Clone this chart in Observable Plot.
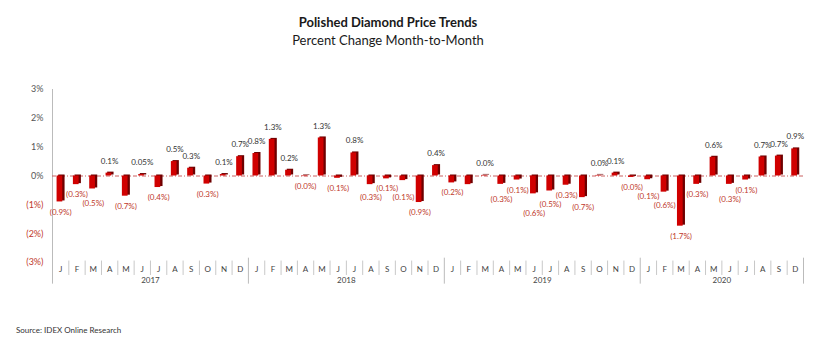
<!DOCTYPE html>
<html>
<head>
<meta charset="utf-8">
<script src="https://cdn.jsdelivr.net/npm/d3@7"></script>
<script src="https://cdn.jsdelivr.net/npm/@observablehq/plot@0.6"></script>
<style>
  body { margin: 0; background: #fff; font-family: Lato, "Open Sans", sans-serif; }
  #wrap { position: relative; width: 823px; height: 346px; overflow: hidden; }
  #title { position: absolute; top: 14px; left: 0; width: 776px; text-align: center; font-weight: bold; font-size: 13px; color: #1a1a1a; line-height: 16px; }
  #subtitle { position: absolute; top: 32px; left: 0; width: 776px; text-align: center; font-size: 13px; color: #1a1a1a; line-height: 16px; }
  #source { position: absolute; top: 325px; left: 16px; font-size: 8px; color: #333; line-height: 10px; }
  #chart { position: absolute; top: 0; left: 0; }
</style>
</head>
<body>
<div id="wrap">
  <div id="chart"></div>
  <div id="title">Polished Diamond Price Trends</div>
  <div id="subtitle">Percent Change Month-to-Month</div>
  <div id="source">Source: IDEX Online Research</div>
</div>
<script>
// Month letters (2017–2020; 2020 shows 10 months)
const months = [
  "J","F","M","A","M","J","J","A","S","O","N","D",
  "J","F","M","A","M","J","J","A","S","O","N","D",
  "J","F","M","A","M","J","J","A","S","O","N","D",
  "J","F","M","A","M","J","J","A","S","D"
];
const years = [
  ...Array(12).fill("2017"), ...Array(12).fill("2018"),
  ...Array(12).fill("2019"), ...Array(10).fill("2020")
];
// Percent change month-to-month
const values = [
  -0.9, -0.3, -0.45, 0.1, -0.7, 0.05, -0.4, 0.5, 0.27, -0.28, 0.05, 0.67,
  0.78, 1.27, 0.2, -0.02, 1.32, -0.08, 0.8, -0.3, -0.1, -0.16, -0.92, 0.36,
  -0.24, -0.3, 0.02, -0.29, -0.14, -0.62, -0.52, -0.32, -0.75, 0.02, 0.1, -0.05,
  -0.13, -0.56, -1.74, -0.29, 0.65, -0.29, -0.14, 0.66, 0.69, 0.94
];
const labels = [
  "(0.9%)","(0.3%)","(0.5%)","0.1%","(0.7%)","0.05%","(0.4%)","0.5%","0.3%","(0.3%)","0.1%","0.7%",
  "0.8%","1.3%","0.2%","(0.0%)","1.3%","(0.1%)","0.8%","(0.3%)","(0.1%)","(0.1%)","(0.9%)","0.4%",
  "(0.2%)","","0.0%","(0.3%)","(0.1%)","(0.6%)","(0.5%)","(0.3%)","(0.7%)","0.0%","0.1%","(0.0%)",
  "(0.1%)","(0.6%)","(1.7%)","(0.3%)","0.6%","(0.3%)","(0.1%)","0.7%","0.7%","0.9%"
];
const yTicksPos = [0, 1, 2, 3];
const yTicksNeg = [-1, -2, -3];

// Layout constants
const W = 823, H = 346, MT = 89, MB = 84, ML = 52, MR = 20;
const Y_DOMAIN = [-3, 3];
const ppu = (H - MT - MB) / (Y_DOMAIN[1] - Y_DOMAIN[0]); // pixels per percent

// Label offsets (pixels below zero line), staggered where neighbouring negative labels collide
const isNeg = labels.map(l => l.startsWith("("));
const off = labels.map((l, i) => !l ? null : (isNeg[i] ? -values[i] * ppu + 10 : -values[i] * ppu - 12));
for (let pass = 0; pass < 3; pass++) {
  for (let i = 1; i < off.length; i++) {
    const j = i - 1;
    if (off[i] == null || off[j] == null || !isNeg[i] || !isNeg[j]) continue;
    if (Math.abs(off[i] - off[j]) < 9) {
      if (values[i] <= values[j]) off[i] = off[j] + 9;
      else off[j] = off[i] + 9;
    }
  }
}

const data = values.map((v, i) => ({ i, v, label: labels[i], month: months[i], year: years[i], ly: off[i] == null ? null : -off[i] / ppu }));
const yearNames = Array.from(new Set(years));
const yearCenters = yearNames.map(y => ({ year: y, x: d3.mean(data.filter(d => d.year === y), d => d.i) }));
const yearBounds = yearNames.map(y => d3.max(data.filter(d => d.year === y), d => d.i) + 0.5);
const monthBounds = d3.range(0.5, values.length - 1, 1).filter(b => !yearBounds.includes(b));

const chart = Plot.plot({
  width: W,
  height: H,
  marginTop: MT,
  marginBottom: MB,
  marginLeft: ML,
  marginRight: MR,
  style: { fontFamily: "Lato, 'Open Sans', sans-serif", fontSize: "9px", background: "transparent" },
  x: { type: "linear", domain: [-0.5, values.length - 0.5], label: null },
  y: { domain: Y_DOMAIN, label: null },
  marks: [
    Plot.axisY({ ticks: yTicksPos, tickSize: 0, tickPadding: 9, tickFormat: d => d + "%", fill: "#555", fontSize: 9, label: null }),
    Plot.axisY({ ticks: yTicksNeg, tickSize: 0, tickPadding: 9, tickFormat: d => `(${-d}%)`, fill: "#c0392b", fontSize: 9, label: null }),
    Plot.axisX(d3.range(values.length), { tickSize: 0, tickPadding: 4, tickFormat: i => months[i], fill: "#444", fontSize: 8, label: null }),
    // left axis line
    Plot.ruleX([-0.5], { y1: 3, y2: -3.75, stroke: "#bbb" }),
    // month separators
    Plot.ruleX(monthBounds, { y1: -2.95, y2: -3.45, stroke: "#c8c8c8" }),
    // year separators
    Plot.ruleX(yearBounds, { y1: -2.85, y2: -3.75, stroke: "#bbb" }),
    // year labels
    Plot.text(yearCenters, { x: "x", frameAnchor: "bottom", dy: 20, text: "year", fill: "#444", fontSize: 8 }),
    // zero line
    Plot.ruleY([0], { stroke: "#c96060", strokeDasharray: "4,2,1,2" }),
    // bar side (3D shadow)
    Plot.rectY(data, { x1: d => d.i - 0.12, x2: d => d.i + 0.27, y1: 0, y2: "v", dy: -1, fill: "#6e0000" }),
    // bar front
    Plot.rectY(data, { x1: d => d.i - 0.22, x2: d => d.i + 0.13, y1: 0, y2: "v", fill: "#d00000" }),
    // labels
    Plot.text(data.filter(d => d.label && !d.label.startsWith("(")), { x: "i", y: "ly", text: "label", fill: "#333", fontSize: 8 }),
    Plot.text(data.filter(d => d.label.startsWith("(")), { x: "i", y: "ly", text: "label", fill: "#c0392b", fontSize: 8 })
  ]
});
document.getElementById("chart").appendChild(chart);
</script>
</body>
</html>
